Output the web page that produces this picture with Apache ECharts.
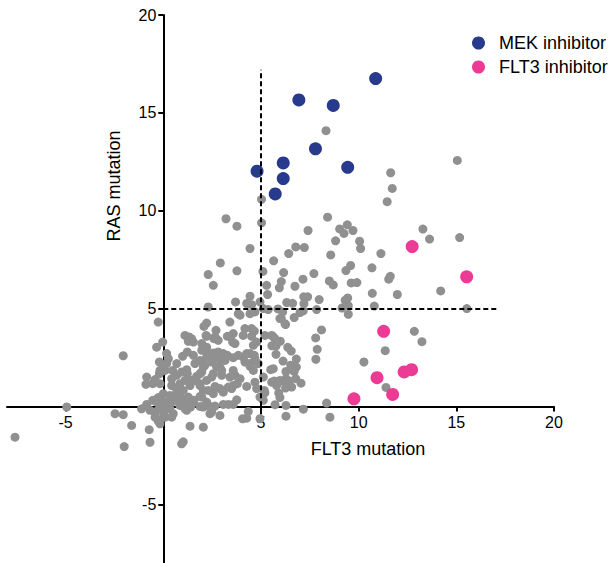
<!DOCTYPE html>
<html>
<head>
<meta charset="utf-8">
<script src="https://cdn.jsdelivr.net/npm/echarts@6/dist/echarts.min.js"></script>
<style>
  html, body { margin: 0; padding: 0; background: #fff; }
  #chart { width: 614px; height: 563px; }
</style>
</head>
<body>
<div id="chart"></div>
<script>
// ---- data (x = FLT3 mutation score, y = RAS mutation score) ----
const mekInhibitor = [
  [10.87, 16.75], [6.94, 15.66], [8.70, 15.38], [7.79, 13.16], [6.14, 12.44],
  [4.80, 12.02], [9.44, 12.22], [6.14, 11.64], [5.73, 10.86]
];
const flt3Inhibitor = [
  [12.74, 8.17], [15.53, 6.62], [11.28, 3.84], [10.94, 1.47], [12.33, 1.76],
  [12.71, 1.88], [11.74, 0.61], [9.76, 0.39]
];
const otherDrugs = [
  [8.33,14.09],[5.03,10.58],[3.21,9.59],[3.77,9.21],[5.03,9.38],[8.41,9.67],[7.41,8.99],[9.03,9.07],
  [9.25,8.84],[8.82,8.46],[4.44,8.07],[6.78,8.15],[7.22,8.12],[6.42,7.81],[8.57,7.74],[2.92,7.33],
  [5.65,7.44],[3.77,6.93],[5.10,6.90],[11.64,11.94],[11.72,11.14],[11.46,10.46],
  [15.05,12.57],[9.42,9.28],[9.71,8.99],[13.29,9.06],[13.63,8.55],[15.17,8.63],[10.05,8.44],[10.10,8.07],
  [11.14,7.81],[9.59,7.20],[9.35,6.94],[10.68,7.08],[11.62,6.65],[11.54,6.50],[9.62,6.31],[9.91,6.33],
  [10.70,5.78],[11.98,5.72],[14.20,5.90],[9.44,5.54],[9.31,5.42],[9.47,5.15],[10.80,5.13],[9.15,5.03],
  [15.54,5.00],[9.47,4.71],
  [7.71,6.79],[6.16,6.84],[6.04,6.38],[5.94,6.06],[7.15,6.50],[6.74,6.14],[8.50,6.41],[8.70,6.21],
  [5.34,5.72],[4.44,5.63],[6.32,5.31],[6.62,5.27],[7.19,5.60],[7.39,5.60],[7.20,5.25],[7.98,5.46],
  [5.87,4.98],[6.11,4.83],[7.00,4.80],[7.16,4.88],[7.85,4.95],[6.04,4.49],[6.70,4.54],[6.26,4.18],
  [8.10,3.91],[7.80,3.50],[7.88,2.92],[7.81,2.41],[10.27,2.27],[11.36,2.85],[12.85,3.84],[13.24,3.31],
  [11.40,0.97],[5.61,3.58],[5.99,3.33],[5.56,3.10],[5.77,3.09],[5.77,2.66],[6.37,3.02],[6.55,2.83],
  [6.81,2.42],[6.13,2.32],[6.52,2.11],[6.81,2.01],[6.28,1.79],[6.70,1.79],[5.63,1.93],[5.50,1.88],
  [5.12,1.50],[7.05,1.19],[5.97,1.33],[6.14,1.28],[5.68,1.30],[6.26,0.94],[5.91,0.68],[5.20,0.70],
  [8.36,0.17],[7.17,-0.14],[8.53,-0.55],
  [2.30,6.74],[2.56,6.19],[5.29,6.19],[3.70,5.34],[4.27,5.26],[4.52,5.20],[4.44,4.74],[4.69,4.83],
  [4.95,5.34],[3.84,4.74],[3.93,4.66],[5.12,5.00],[5.37,4.95],[6.23,4.23],[5.97,4.49],[3.41,4.31],
  [2.22,4.26],[2.08,4.09],[2.22,3.58],[2.70,3.89],[2.59,3.46],[2.81,3.38],[3.28,3.58],[3.58,3.72],
  [3.55,3.29],[3.67,3.21],[4.09,3.63],[4.18,3.98],[4.52,3.98],[4.52,3.58],[5.20,3.63],[5.55,3.63],
  [5.72,3.46],[4.61,3.12],[4.44,2.70],[4.69,2.44],[4.44,2.19],[3.84,2.61],[4.09,2.52],[4.27,2.70],
  [4.18,2.27],[4.44,2.05],[4.61,1.84],
  [1.97,3.21],[2.22,3.03],[1.97,2.87],[2.30,2.70],[2.65,2.52],[2.81,2.78],[3.07,2.70],[3.16,2.35],
  [2.48,2.27],[2.90,2.01],[2.13,2.10],[1.97,1.76],[2.56,1.67],[2.99,1.59],[3.58,1.84],[3.67,1.59],
  [3.58,1.07],[3.50,0.91],[4.27,1.02],[4.69,1.24],[4.78,0.91],[5.55,1.24],[5.80,1.07],[6.28,1.42],
  [6.45,1.30],[5.97,0.45],[6.78,1.42],[5.72,0.09],[6.28,0.05],[6.28,-0.50],[5.12,0.31],
  [4.35,-0.26],[4.06,-0.63],[4.27,-0.60],[3.76,0.34],[3.58,0.10],[3.33,0.10],[3.07,0.10],[2.65,0.02],
  [2.90,-0.46],[2.48,-0.29],[2.05,-0.03],[1.97,0.48],[2.22,0.22],[2.05,-1.06],[2.05,0.82],[2.30,0.82],
  [2.56,0.65],[2.90,0.91],[3.07,0.73],
  [2.30,5.08],[-0.26,4.31],[-0.03,3.29],[-0.34,3.03],[-2.05,2.59],[1.11,3.63],[1.32,3.55],[1.45,3.46],
  [1.28,3.33],[1.54,3.29],[2.19,3.63],[2.65,3.55],[4.66,3.85],[4.78,3.29],
  [0.99,2.56],[1.54,2.61],[1.88,2.35],[2.56,2.73],[2.90,2.39],[3.28,2.61],[3.58,2.49],[4.66,2.61],
  [4.86,2.19],[-0.85,1.50],[-0.42,1.37],[-0.89,1.13],[-0.54,1.16],[-0.17,1.84],[-0.20,2.27],[0.00,2.10],
  [0.26,2.44],[0.17,2.70],[0.48,1.84],[0.69,1.59],[0.94,1.76],[1.20,1.88],[1.11,1.33],[1.45,1.33],
  [1.71,1.54],[1.88,1.16],[2.22,1.33],[2.48,1.50],[2.65,1.02],[3.33,0.99],[3.79,1.16],[3.93,1.42],
  [3.41,1.50],[2.99,1.84],[2.73,2.01],[4.95,0.48],
  [-1.11,-0.12],[-0.85,0.10],[-0.54,0.31],[-0.26,0.45],[-0.42,-0.29],[-0.17,0.00],[0.17,0.22],[0.34,-0.12],
  [0.51,-0.37],[0.09,-0.55],[-0.26,-0.75],[0.85,0.05],[1.11,-0.12],[1.40,-0.03],[0.00,0.65],[0.34,0.56],
  [0.69,0.65],[0.94,0.39],[1.28,0.48],[1.57,0.31],[1.88,0.51],[2.39,0.00],[1.88,0.00],
  [-2.47,-0.37],[-2.05,-0.42],[-1.62,-0.97],[-0.72,-1.19],[-2.00,-2.05],[-0.68,-1.83],[0.94,-1.91],[1.02,-1.81],
  [1.37,-1.01],[2.39,-0.37],[-4.94,-0.03],[-7.59,-1.57],[4.95,-0.63],[5.17,0.82],[6.57,0.99],
  [0.17,2.19],[0.09,1.84],[-0.20,1.67],[-0.17,1.16],[0.43,1.42],[0.43,1.07],[0.85,1.16],[0.69,0.82],
  [1.02,0.82],[1.23,1.67],[1.62,2.19],[2.05,2.01],[2.22,2.52],[1.88,1.67],[1.62,1.33],[1.37,1.07],
  [1.88,1.07],[1.23,2.78],[-0.34,0.22],[-0.08,0.31],[0.43,0.22],[0.69,0.31],[0.94,0.22],[1.20,0.14],
  [1.54,0.22],[-0.68,-0.20],[-0.26,-0.20],[0.09,-0.20],[1.20,-0.20],[-0.42,-0.55],[0.00,-0.55],[0.43,-0.55],
  [-0.17,-0.89],[0.69,2.19],[0.77,0.56]
];
const xTickValues = [-5, 5, 10, 15, 20];
const yTickValues = [-5, 5, 10, 15, 20];
const xRange = [-8, 20];
const yRange = [-8, 20];
// threshold guide lines (data units)
const vGuide = [[5, -0.4], [5, 17.2]];
const hGuide = [[0, 5], [17.1, 5]];

const FONT = '"Liberation Sans", Arial, Helvetica, sans-serif';
const GRID = { left: 7, right: 60, top: 15, bottom: 0 };
const chart = echarts.init(document.getElementById('chart'), null, { renderer: 'svg' });

const axisCommon = {
  type: 'value',
  splitLine: { show: false },
  axisLine: { show: true, onZero: false, lineStyle: { color: '#000', width: 2 } },
  axisTick: { show: true, length: 5, lineStyle: { color: '#000', width: 2 } },
  axisLabel: { color: '#000', fontSize: 16, fontFamily: FONT, margin: 8 }
};

chart.setOption({
  animation: false,
  backgroundColor: '#fff',
  grid: Object.assign({ containLabel: false, outerBoundsMode: 'none' }, GRID),
  xAxis: Object.assign({}, axisCommon, {
    position: 'bottom',
    min: xRange[0], max: xRange[1],
    axisTick: Object.assign({}, axisCommon.axisTick, { customValues: xTickValues }),
    axisLabel: Object.assign({}, axisCommon.axisLabel, { customValues: xTickValues })
  }),
  yAxis: Object.assign({}, axisCommon, {
    position: 'left',
    min: yRange[0], max: yRange[1],
    axisTick: Object.assign({}, axisCommon.axisTick, { customValues: yTickValues }),
    axisLabel: Object.assign({}, axisCommon.axisLabel, { customValues: yTickValues, margin: 7 })
  }),
  legend: {
    data: ['MEK inhibitor', 'FLT3 inhibitor'],
    orient: 'vertical',
    left: 467, top: 29,
    icon: 'circle',
    itemWidth: 13, itemHeight: 13, itemGap: 6,
    textStyle: { fontSize: 18, fontFamily: FONT, color: '#000', lineHeight: 18, padding: [0, 0, 0, 9] }
  },
  graphic: [
    { type: 'text', x: 368, y: 449,
      style: { text: 'FLT3 mutation', fontSize: 18, fontFamily: FONT, fill: '#000', align: 'center', verticalAlign: 'middle' } },
    { type: 'text', x: 114, y: 186, rotation: Math.PI / 2,
      style: { text: 'RAS mutation', fontSize: 18, fontFamily: FONT, fill: '#000', align: 'center', verticalAlign: 'middle' } }
  ],
  series: [
    { name: 'Other', type: 'scatter', data: otherDrugs, symbolSize: 9,
      itemStyle: { color: '#909090', opacity: 1 }, z: 2 },
    { name: 'MEK inhibitor', type: 'scatter', data: mekInhibitor, symbolSize: 13,
      itemStyle: { color: '#283a8b', opacity: 1 }, z: 3 },
    { name: 'FLT3 inhibitor', type: 'scatter', data: flt3Inhibitor, symbolSize: 13,
      itemStyle: { color: '#ec3b94', opacity: 1 }, z: 4,
      markLine: {
        silent: true, symbol: 'none', label: { show: false },
        lineStyle: { color: '#000', width: 2, type: [5, 3] },
        data: [
          [{ coord: vGuide[0] }, { coord: vGuide[1] }],
          [{ coord: hGuide[0] }, { coord: hGuide[1] }]
        ]
      } }
  ]
});

// Move both axes (line, ticks and labels) so they cross at the data origin,
// using the library's own scale to find where 0 is.
const origin = chart.convertToPixel({ gridIndex: 0 }, [0, 0]);
const gridLeftPx = GRID.left;
const gridBottomPx = chart.getHeight() - GRID.bottom;
chart.setOption({
  xAxis: { offset: -(gridBottomPx - origin[1]) },
  yAxis: { offset: -(origin[0] - gridLeftPx) }
});
</script>
</body>
</html>
